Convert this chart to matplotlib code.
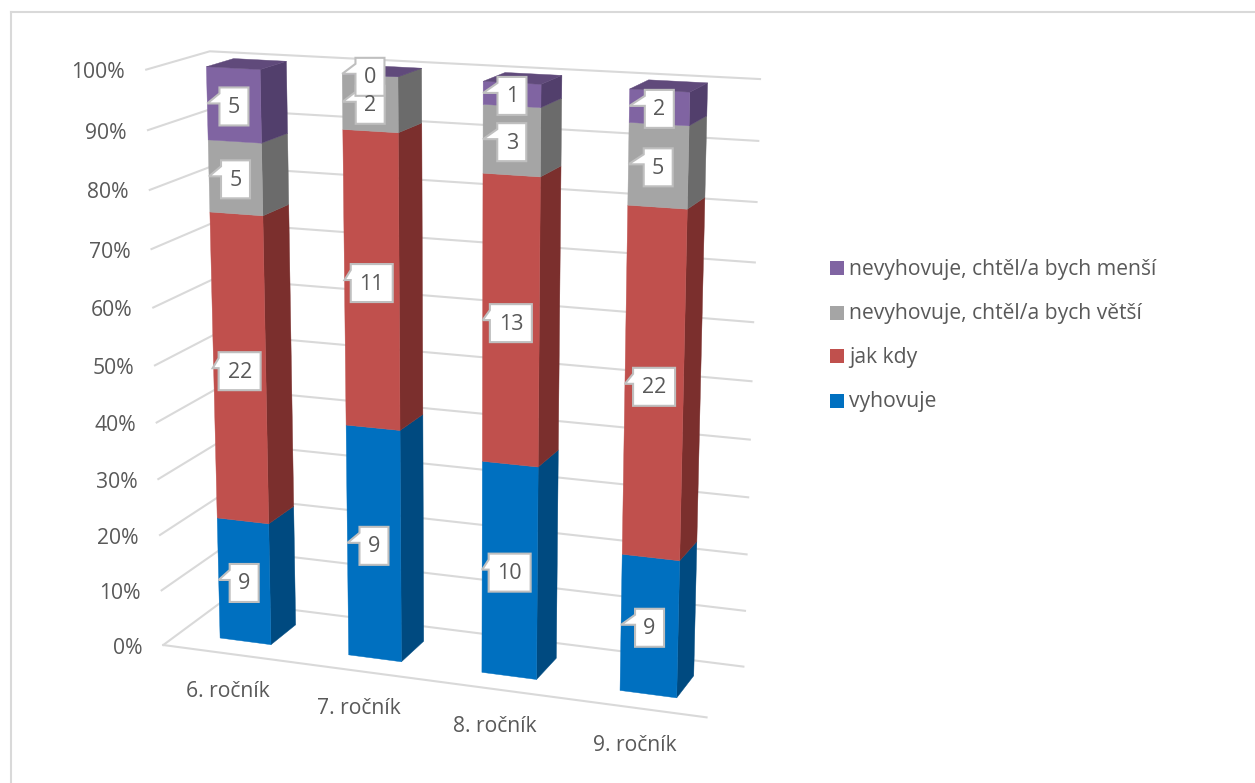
import numpy as np
import matplotlib
matplotlib.use('Agg')
import matplotlib.pyplot as plt
from matplotlib.patches import Polygon, Rectangle

plt.rcParams['font.family'] = ['Open Sans', 'DejaVu Sans']

categories = ['6. ročník', '7. ročník', '8. ročník', '9. ročník']
series = ['vyhovuje', 'jak kdy', 'nevyhovuje, chtěl/a bych větší', 'nevyhovuje, chtěl/a bych menší']
vyhovuje = [9, 9, 10, 9]
jak_kdy = [22, 11, 13, 22]
vetsi = [5, 2, 3, 5]
mensi = [5, 0, 1, 2]
tick_labels = ['0%', '10%', '20%', '30%', '40%', '50%', '60%', '70%', '80%', '90%', '100%']

front_cols = ['#0070C0', '#C0504D', '#A5A5A5', '#8064A2']
side_cols = ['#004A80', '#7B2F2D', '#6B6B6B', '#523F6C']
top_cols = ['#00588F', '#98403D', '#858585', '#604A7B']
grid_col = '#D9D9D9'
text_col = '#595959'
box_edge = '#BFBFBF'

# corners of the plot box: (category, share, depth) -> pixel
box_world = [(0, 0, 0), (0, 1, 0), (0, 0, 1), (0, 1, 1), (4, 1, 1), (4, 0, 1), (4, 0, 0)]
box_px = [(163, 645), (146, 70), (223, 601), (210, 51), (760, 79), (743, 667), (707, 717)]

bar_center = 0.52
bar_half = 0.2
depth_front = 0.27
depth_back = 0.71


def fit_camera(world, px):
    rows, rhs = [], []
    for (a, b, c), (u, v) in zip(world, px):
        rows.append([a, b, c, 1, 0, 0, 0, 0, -u * a, -u * b, -u * c])
        rows.append([0, 0, 0, 0, a, b, c, 1, -v * a, -v * b, -v * c])
        rhs += [u, v]
    sol = np.linalg.lstsq(np.array(rows, float), np.array(rhs, float), rcond=None)[0]
    return np.append(sol, 1).reshape(3, 4)


cam = fit_camera(box_world, box_px)


def proj(a, b, c):
    h = cam @ np.array([a, b, c, 1.0])
    return h[0] / h[2], h[1] / h[2]


def face(pts, col, zorder):
    ax.add_patch(Polygon([proj(*p) for p in pts], closed=True, facecolor=col,
                         edgecolor=col, lw=0.3, zorder=zorder))


def callout(cx, cy, tip_x, label):
    w = 29 if len(label) == 1 else 42
    h = 38
    l, r = cx - w / 2, cx + w / 2
    t, b = cy - h / 2, cy + h / 2
    tip_y = t + 16
    outline = [(l, t), (r, t), (r, b), (l, b), (l, tip_y), (min(tip_x, l - 6), tip_y), (l, t + 6)]
    ax.add_patch(Polygon(outline, closed=True, facecolor='white', edgecolor=box_edge, lw=1.5, zorder=20))
    ax.text(cx, cy + 1, label, ha='center', va='center', fontsize=15.5, color=text_col, zorder=21)


fig = plt.figure(figsize=(12.55, 7.83), dpi=100)
ax = fig.add_axes([0, 0, 1, 1])
ax.set_xlim(0, 1255)
ax.set_ylim(783, 0)
ax.axis('off')

# chart frame
ax.plot([11, 11], [783, 12], color=grid_col, lw=1.5)
ax.plot([11, 1255], [12, 12], color=grid_col, lw=1.5)

# gridlines on the side wall and the back wall
for i, lab in enumerate(tick_labels):
    s = i / 10
    pts = [proj(0, s, 0), proj(0, s, 1), proj(4, s, 1)]
    ax.plot([p[0] for p in pts], [p[1] for p in pts], color=grid_col, lw=1.5, zorder=1)
    ax.text(pts[0][0] - 21, pts[0][1] + 3, lab, ha='right', va='center', fontsize=15.2, color=text_col)

# floor front edge
p0, p1 = proj(0, 0, 0), proj(4, 0, 0)
ax.plot([p0[0], p1[0]], [p0[1], p1[1]], color=grid_col, lw=1.5, zorder=1)

data = np.array([vyhovuje, jak_kdy, vetsi, mensi], float)
shares = data / data.sum(axis=0)
tops = np.cumsum(shares, axis=0)

for i, cat in enumerate(categories):
    xc = i + bar_center
    xl, xr = xc - bar_half, xc + bar_half
    bottom = 0.0
    for k in range(4):
        top = tops[k, i]
        z = 5 + i + k * 0.1
        face([(xr, bottom, depth_front), (xr, bottom, depth_back), (xr, top, depth_back), (xr, top, depth_front)],
             side_cols[k], z)
        face([(xl, bottom, depth_front), (xr, bottom, depth_front), (xr, top, depth_front), (xl, top, depth_front)],
             front_cols[k], z)
        bottom = top
    face([(xl, 1, depth_front), (xr, 1, depth_front), (xr, 1, depth_back), (xl, 1, depth_back)],
         top_cols[3], 5 + i + 0.5)

    # value callouts, centred on the front face of each segment
    bottom = 0.0
    for k in range(4):
        top = tops[k, i]
        mid = (bottom + top) / 2
        cx, cy = proj(xc, mid, depth_front)
        tip_x = proj(xl, mid, depth_front)[0]
        callout(cx, cy + 1.5, tip_x, str(int(data[k, i])))
        bottom = top

    px, py = proj(i + 0.5, 0, 0)
    ax.text(px + 1, py + 38, cat, ha='center', va='center', fontsize=15.2, color=text_col)

# legend
legend_y = [401, 356, 313, 268]
for k, name in enumerate(series):
    ax.add_patch(Rectangle((830, legend_y[k] - 7), 14, 14, facecolor=front_cols[k], edgecolor='none'))
    ax.text(849, legend_y[k] + 6.5, name, ha='left', va='baseline', fontsize=15.2, color=text_col)

fig.savefig('out.png', dpi=100)
